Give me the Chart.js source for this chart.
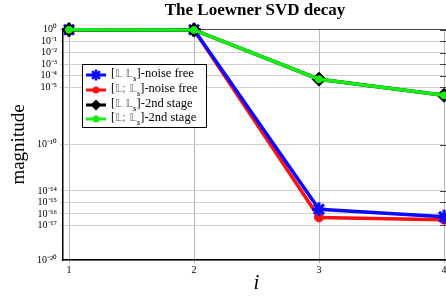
<!DOCTYPE html>
<html>
<head>
<meta charset="utf-8">
<script src="https://cdn.jsdelivr.net/npm/chart.js@4.4.1/dist/chart.umd.min.js"></script>
<style>
  html, body { margin: 0; padding: 0; overflow: hidden; background: #fff; width: 446px; height: 298px; }
  #wrap { position: relative; width: 460px; height: 298px; }
  #title { position: absolute; left: 0; top: 1px; width: 510px; text-align: center;
           font: bold 17px "Liberation Serif", serif; line-height: 18px; }
  #legend { position: absolute; left: 82px; top: 64px; width: 123px; height: 62px;
            border: 1px solid #000; background: #fff; font: 12.5px "Liberation Serif", serif; }
  .row { position: absolute; left: 3px; height: 15px; display: flex; align-items: center; white-space: nowrap; }
  .row canvas { margin-right: 5px; }
  .bb { color: #666; font-family: "DejaVu Sans", sans-serif; font-size: 11px; }
  .row sub { font-style: italic; font-size: 9px; }
</style>
</head>
<body>
<div id="wrap">
  <canvas id="chart" width="460" height="298"></canvas>
  <div id="title">The Loewner SVD decay</div>
  <div id="legend"></div>
</div>
<script>
// singular value index
const iValues = [1, 2, 3, 4];

// normalised singular values
const noiseFreeLLs = [1, 1, 2.5e-16, 5.6e-17];
const noiseFreeLsemiLs = [1, 1, 5e-17, 3.2e-17];
const stage2LLs = [1, 0.95, 5e-5, 2e-6];
const stage2LsemiLs = [1, 0.95, 5e-5, 2e-6];

// exponents that get a tick on the y axis
const yTickExps = [0, -1, -2, -3, -4, -5, -10, -14, -15, -16, -17, -20];

const seriesLabels = [
  '[<span class="bb">𝕃 𝕃</span><sub>s</sub>]-noise free',
  '[<span class="bb">𝕃; 𝕃</span><sub>s</sub>]-noise free',
  '[<span class="bb">𝕃 𝕃</span><sub>s</sub>]-2nd stage',
  '[<span class="bb">𝕃; 𝕃</span><sub>s</sub>]-2nd stage'
];

const SUP = { '0': '⁰', '1': '¹', '2': '²', '3': '³', '4': '⁴', '5': '⁵', '6': '⁶', '7': '⁷', '8': '⁸', '9': '⁹', '-': '⁻' };
const sup = n => String(n).split('').map(ch => SUP[ch]).join('');

const toPoints = arr => arr.map((v, k) => ({ x: iValues[k], y: v }));

const styles = [
  { color: '#0a0aff', pointStyle: 'star', radius: 7, pbw: 3, order: 2 },
  { color: '#ff1010', pointStyle: 'circle', radius: 4.5, pbw: 1, order: 3 },
  { color: '#000000', pointStyle: 'rectRot', radius: 7, pbw: 1, order: 1 },
  { color: '#14ee14', pointStyle: 'circle', radius: 3.5, pbw: 1, order: 0 }
];
const seriesData = [noiseFreeLLs, noiseFreeLsemiLs, stage2LLs, stage2LsemiLs];

const font = { family: 'Liberation Serif', size: 10 };

// top border + inward ticks on the right edge
const frame = {
  id: 'frame',
  beforeDatasetsDraw(c) {
    const { ctx, chartArea: a, scales } = c;
    ctx.save();
    ctx.strokeStyle = '#444';
    ctx.lineWidth = 1;
    ctx.beginPath();
    ctx.moveTo(a.left, a.top + 0.5);
    ctx.lineTo(a.right, a.top + 0.5);
    scales.y.ticks.forEach(t => {
      const y = Math.round(scales.y.getPixelForValue(t.value)) + 0.5;
      ctx.moveTo(a.right, y);
      ctx.lineTo(a.right - 10, y);
    });
    ctx.stroke();
    ctx.restore();
  }
};

new Chart(document.getElementById('chart'), {
  type: 'line',
  data: {
    datasets: seriesData.map((arr, k) => ({
      data: toPoints(arr),
      borderColor: styles[k].color,
      backgroundColor: styles[k].color,
      borderWidth: 3.5,
      pointStyle: styles[k].pointStyle,
      pointRadius: styles[k].radius,
      pointBorderWidth: styles[k].pbw,
      pointBackgroundColor: styles[k].color,
      pointBorderColor: styles[k].color,
      order: styles[k].order,
      clip: false,
      tension: 0
    }))
  },
  options: {
    responsive: false,
    animation: false,
    devicePixelRatio: 1,
    layout: { padding: { top: 29, right: 7, left: 0, bottom: 0 } },
    plugins: { legend: { display: false }, tooltip: { enabled: false } },
    scales: {
      x: {
        type: 'linear',
        min: 0.952,
        max: 4.048,
        afterBuildTicks: s => { s.ticks = iValues.map(v => ({ value: v })); },
        afterFit: s => { s.height = 38; },
        ticks: { callback: v => String(v), font, color: '#000', padding: 1, maxRotation: 0, autoSkip: false },
        grid: { color: '#b5b5b5', tickLength: 3 },
        border: { color: '#000', width: 1.5 },
        title: { display: true, text: 'i', color: '#000',
                 font: { family: 'Liberation Serif', size: 21, style: 'italic' }, padding: { top: 0, bottom: 2 } }
      },
      y: {
        type: 'logarithmic',
        min: 1e-20,
        max: Math.pow(10, 0.06),
        afterBuildTicks: s => { s.ticks = yTickExps.map(e => ({ value: Math.pow(10, e) })); },
        afterFit: s => { s.width = 63; },
        ticks: {
          callback: v => '10' + sup(Math.round(Math.log10(v))),
          font, color: '#000', padding: 3, autoSkip: false
        },
        grid: { color: '#d0d0d0', tickLength: 3 },
        border: { color: '#000', width: 1.5 },
        title: { display: true, text: 'magnitude', color: '#000',
                 font: { family: 'Liberation Serif', size: 19 }, padding: { top: 8, bottom: 0 } }
      }
    }
  },
  plugins: [frame]
});

// legend icons: short line with the series marker
function drawIcon(cv, st) {
  const ctx = cv.getContext('2d');
  const cx = 10, cy = 6;
  ctx.strokeStyle = st.color;
  ctx.fillStyle = st.color;
  ctx.lineWidth = 3;
  ctx.beginPath(); ctx.moveTo(0, cy); ctx.lineTo(20, cy); ctx.stroke();
  const r = Math.min(st.radius, 5.5);
  if (st.pointStyle === 'star') {
    ctx.lineWidth = 2.5;
    ctx.beginPath();
    for (let a = 0; a < 4; a++) {
      const ang = a * Math.PI / 4;
      ctx.moveTo(cx - r * Math.cos(ang), cy - r * Math.sin(ang));
      ctx.lineTo(cx + r * Math.cos(ang), cy + r * Math.sin(ang));
    }
    ctx.stroke();
  } else if (st.pointStyle === 'rectRot') {
    ctx.beginPath();
    ctx.moveTo(cx, cy - r); ctx.lineTo(cx + r, cy); ctx.lineTo(cx, cy + r); ctx.lineTo(cx - r, cy);
    ctx.closePath(); ctx.fill();
  } else {
    ctx.beginPath(); ctx.arc(cx, cy, Math.min(r, 3.5), 0, Math.PI * 2); ctx.fill();
  }
}

const legend = document.getElementById('legend');
const rowTops = [2, 17, 32, 46];
seriesLabels.forEach((lab, k) => {
  const row = document.createElement('div');
  row.className = 'row';
  row.style.top = rowTops[k] + 'px';
  const cv = document.createElement('canvas');
  cv.width = 20; cv.height = 12;
  drawIcon(cv, styles[k]);
  const span = document.createElement('span');
  span.innerHTML = lab;
  row.appendChild(cv);
  row.appendChild(span);
  legend.appendChild(row);
});
</script>
</body>
</html>
